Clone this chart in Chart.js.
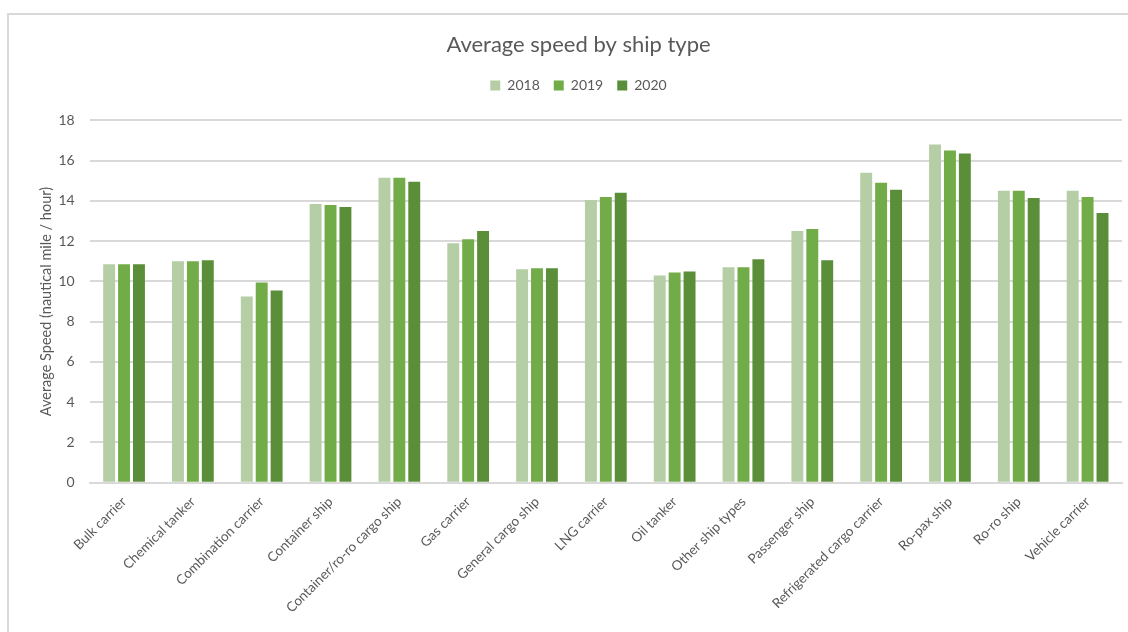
<!DOCTYPE html>
<html>
<head>
<meta charset="utf-8">
<script src="https://cdn.jsdelivr.net/npm/chart.js@4"></script>
<style>
  html, body { margin: 0; padding: 0; background: #fff; }
  #wrap { position: relative; width: 1128px; height: 632px; overflow: hidden; }
  #frame { position: absolute; left: 7px; top: 13px; width: 1140px; height: 640px;
           border-left: 2px solid #d9d9d9; border-top: 2px solid #d9d9d9; }
  canvas { position: absolute; left: 0; top: 0; }
</style>
</head>
<body>
<div id="wrap">
  <div id="frame"></div>
  <canvas id="myChart" width="1128" height="632"></canvas>
</div>
<script>
var shipTypes = ["Bulk carrier", "Chemical tanker", "Combination carrier", "Container ship",
  "Container/ro-ro cargo ship", "Gas carrier", "General cargo ship", "LNG carrier",
  "Oil tanker", "Other ship types", "Passenger ship", "Refrigerated cargo carrier",
  "Ro-pax ship", "Ro-ro ship", "Vehicle carrier"];
var years = ["2018", "2019", "2020"];
var speed2018 = [10.85, 11.0, 9.25, 13.85, 15.15, 11.9, 10.6, 14.05, 10.3, 10.7, 12.5, 15.4, 16.8, 14.5, 14.5];
var speed2019 = [10.85, 11.0, 9.95, 13.8, 15.15, 12.1, 10.65, 14.2, 10.45, 10.7, 12.6, 14.9, 16.5, 14.5, 14.2];
var speed2020 = [10.85, 11.05, 9.55, 13.7, 14.95, 12.5, 10.65, 14.4, 10.5, 11.1, 11.05, 14.55, 16.35, 14.15, 13.4];
var barColors = ["#b5cea5", "#71ac48", "#5b8e39"];

var txt = "#595959";
var font = "Lato, 'Liberation Sans', sans-serif";

// extra space between the legend and the plot area
var legendGap = {
  id: "legendGap",
  beforeInit: function (chart) {
    var fit = chart.legend.fit;
    chart.legend.fit = function () {
      fit.bind(chart.legend)();
      this.height += 18;
    };
  }
};

new Chart("myChart", {
  type: "bar",
  data: {
    labels: shipTypes,
    datasets: [
      {label: years[0], data: speed2018, backgroundColor: barColors[0]},
      {label: years[1], data: speed2019, backgroundColor: barColors[1]},
      {label: years[2], data: speed2020, backgroundColor: barColors[2]}
    ]
  },
  options: {
    responsive: false,
    animation: false,
    categoryPercentage: 0.65,
    barPercentage: 0.8,
    layout: {padding: {left: 35, right: 6, top: 32, bottom: 13}},
    plugins: {
      title: {
        display: true,
        text: "Average speed by ship type",
        color: txt,
        font: {family: font, size: 22, weight: "normal"},
        padding: {top: 0, bottom: 6}
      },
      legend: {
        display: true,
        labels: {
          color: txt,
          font: {family: font, size: 14},
          boxWidth: 10,
          boxHeight: 10,
          padding: 14
        }
      },
      tooltip: {enabled: false}
    },
    scales: {
      x: {
        grid: {display: false},
        border: {color: "#d9d9d9", width: 2},
        ticks: {color: txt, font: {family: font, size: 13.5}, minRotation: 45, maxRotation: 45}
      },
      y: {
        min: 0,
        max: 18,
        afterFit: function (scale) { scale.width -= 15; },
        ticks: {stepSize: 2, color: txt, font: {family: font, size: 14}, padding: 15},
        grid: {color: "#d9d9d9", lineWidth: 2, drawTicks: false},
        border: {display: false},
        title: {
          display: true,
          text: "Average Speed (nautical mile / hour)",
          color: txt,
          font: {family: font, size: 14.5},
          padding: {top: 3, bottom: 3}
        }
      }
    }
  },
  plugins: [legendGap]
});
</script>
</body>
</html>
